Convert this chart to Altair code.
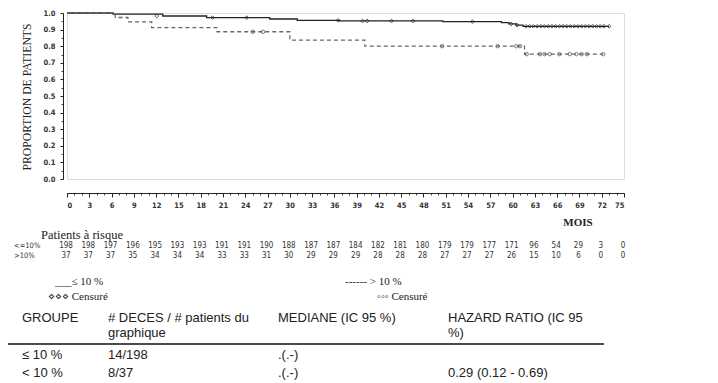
import altair as alt
import pandas as pd

# ---------------- data ----------------
solid_t = [0, 6.2, 12.9, 18.8, 27.3, 31.0, 36.7, 50.6, 58.5, 59.5, 60.5, 61.4, 73.0]
solid_s = [1.0, 0.993, 0.982, 0.972, 0.964, 0.956, 0.952, 0.948, 0.942, 0.934, 0.927, 0.920, 0.920]

dash_t = [0, 6.5, 8.2, 11.4, 20.2, 30.0, 40.1, 61.6, 72.2]
dash_s = [1.0, 0.973, 0.946, 0.912, 0.887, 0.837, 0.800, 0.752, 0.752]

solid_cens_t = [12.1, 19.6, 24.2, 36.5, 39.8, 40.4, 43.7, 46.6, 54.6, 59.8, 60.6,
                61.8, 62.3, 62.8, 63.3, 63.8, 64.3, 64.8, 65.3, 65.8, 66.3, 66.8,
                67.3, 67.8, 68.3, 68.8, 69.3, 69.8, 70.3, 70.8, 71.3, 71.8, 72.3, 73.0]
solid_cens_s = [0.982, 0.972, 0.972, 0.956, 0.952, 0.952, 0.952, 0.952, 0.948, 0.934, 0.927,
                0.920, 0.920, 0.920, 0.920, 0.920, 0.920, 0.920, 0.920, 0.920, 0.920, 0.920,
                0.920, 0.920, 0.920, 0.920, 0.920, 0.920, 0.920, 0.920, 0.920, 0.920, 0.920, 0.920]

dash_cens_t = [25.0, 26.4, 50.5, 58.0, 60.5, 61.0, 61.9, 63.7, 64.3, 65.0, 66.3,
               67.7, 68.6, 69.3, 70.0, 72.2]
dash_cens_s = [0.887, 0.887, 0.800, 0.800, 0.800, 0.800, 0.752, 0.752, 0.752, 0.752, 0.752,
               0.752, 0.752, 0.752, 0.752, 0.752]

risk_months = list(range(0, 76, 3))
risk_le10 = [198, 198, 197, 196, 195, 193, 193, 191, 191, 190, 188, 187, 187,
             184, 182, 181, 180, 179, 179, 177, 171, 96, 54, 29, 3, 0]
risk_gt10 = [37, 37, 37, 35, 34, 34, 34, 33, 33, 31, 30, 29, 29,
             29, 28, 28, 28, 27, 27, 27, 26, 15, 10, 6, 0, 0]

x_major = list(range(0, 76, 3))
x_minor = list(range(0, 76, 1))
y_major = [i / 10 for i in range(11)]
y_minor = [i / 20 for i in range(21)]

table_header = ["GROUPE", "# DECES / # patients du", "MEDIANE (IC 95 %)", "HAZARD RATIO (IC 95"]
table_header2 = ["", "graphique", "", "%)"]
table_row1 = ["≤ 10 %", "14/198", ".(.-)", ""]
table_row2 = ["< 10 %", "8/37", ".(.-)", "0.29 (0.12 - 0.69)"]

# ---------------- frames ----------------
curves = pd.concat([
    pd.DataFrame({"mois": solid_t, "prop": solid_s, "groupe": "≤ 10 %"}),
    pd.DataFrame({"mois": dash_t, "prop": dash_s, "groupe": "> 10 %"}),
])
cens_solid = pd.DataFrame({"mois": solid_cens_t, "prop": solid_cens_s})
cens_dash = pd.DataFrame({"mois": dash_cens_t, "prop": dash_cens_s})
risk = pd.DataFrame({"mois": risk_months, "le": risk_le10, "gt": risk_gt10})

XS = alt.Scale(domain=[0, 75], nice=False, zero=False)
YS = alt.Scale(domain=[0, 1], nice=False)

NUMFONT = "Liberation Sans Narrow, DejaVu Sans Condensed, Arial, sans-serif"
SERIF = "Liberation Serif, Times New Roman, serif"
SANS = "Liberation Sans, Arial, sans-serif"

# minor ticks axes (invisible marks)
minor = alt.Chart(curves).mark_point(opacity=0).encode(
    x=alt.X("mois:Q", scale=XS, axis=alt.Axis(orient="bottom", values=x_minor, labels=False,
                                                 domain=False, ticks=True, tickSize=2,
                                                 tickColor="#444", grid=False, title=None,
                                                 offset=14)),
    y=alt.Y("prop:Q", scale=YS, axis=alt.Axis(orient="left", values=y_minor, labels=False,
                                                 domain=False, ticks=True, tickSize=2,
                                                 tickColor="#444", grid=False, title=None,
                                                 offset=4)),
)

lines = alt.Chart(curves).mark_line(interpolate="step-after", strokeWidth=1.3).encode(
    x=alt.X("mois:Q", scale=XS, axis=alt.Axis(orient="bottom", values=x_major, format="d",
                                                 grid=False, title=None, offset=14, tickSize=4,
                                                 tickColor="#222", domainColor="#222",
                                                 labelFont=NUMFONT, labelFontSize=7.5,
                                                 labelFontWeight="bold", labelColor="#333",
                                                 labelPadding=4)),
    y=alt.Y("prop:Q", scale=YS, axis=alt.Axis(orient="left", values=y_major, format=".1f",
                                                 grid=False, title=None, offset=4, tickSize=3,
                                                 tickColor="#222", domainColor="#222",
                                                 labelFont=NUMFONT, labelFontSize=7.5,
                                                 labelFontWeight="bold", labelColor="#333",
                                                 labelPadding=5)),
    color=alt.Color("groupe:N", scale=alt.Scale(domain=["≤ 10 %", "> 10 %"],
                                                 range=["#222222", "#666666"]), legend=None),
    strokeDash=alt.StrokeDash("groupe:N", scale=alt.Scale(domain=["≤ 10 %", "> 10 %"],
                                                          range=[[1, 0], [4, 3]]), legend=None),
)

pts_solid = alt.Chart(cens_solid).mark_point(shape="diamond", size=14, filled=False,
                                             color="#222", strokeWidth=1).encode(
    x=alt.X("mois:Q", scale=XS, axis=None), y=alt.Y("prop:Q", scale=YS, axis=None))
pts_dash = alt.Chart(cens_dash).mark_point(shape="circle", size=12, filled=False,
                                           color="#444", strokeWidth=1).encode(
    x=alt.X("mois:Q", scale=XS, axis=None), y=alt.Y("prop:Q", scale=YS, axis=None))

risk1 = alt.Chart(risk).mark_text(font=NUMFONT, fontSize=8, color="#333", dx=-1).encode(
    x=alt.X("mois:Q", scale=XS, axis=None), y=alt.value(233), text="le:N")
risk2 = alt.Chart(risk).mark_text(font=NUMFONT, fontSize=8, color="#333", dx=-1).encode(
    x=alt.X("mois:Q", scale=XS, axis=None), y=alt.value(243), text="gt:N")


def label(text, x, y, font=SANS, size=13, weight="normal", align="left", angle=0, color="#222"):
    kw = dict(font=font, fontSize=size, fontWeight=weight, align=align, baseline="middle",
              color=color)
    if angle:
        kw["angle"] = angle
    return alt.Chart(pd.DataFrame({"t": [text]})).mark_text(**kw).encode(
        text="t:N", x=alt.value(x), y=alt.value(y))


texts = [
    label("PROPORTION DE PATIENTS", -40, 84, font=SERIF, size=11.7, align="center", angle=270),
    label("MOIS", 511, 210, font=SERIF, size=11, weight="bold", align="center"),
    label("Patients à risque", -26, 222, font=SERIF, size=12.5),
    label("<=10%", -53, 233, font=NUMFONT, size=7.5, color="#333"),
    label(">10%", -53, 243, font=NUMFONT, size=7.5, color="#333"),
    label("___≤ 10 %", -12, 269, font=SERIF, size=11),
    label("⋄⋄⋄ Censuré", -19, 284, font=SERIF, size=11),
    label("------ > 10 %", 278, 269, font=SERIF, size=11),
    label("◦◦◦ Censuré", 310, 284, font=SERIF, size=11),
]
cols_x = [-45, 41, 211, 381]
for cx, t in zip(cols_x, table_header):
    texts.append(label(t, cx, 305))
for cx, t in zip(cols_x, table_header2):
    if t:
        texts.append(label(t, cx, 320))
for cx, t in zip(cols_x, table_row1):
    if t:
        texts.append(label(t, cx, 342))
for cx, t in zip(cols_x, table_row2):
    if t:
        texts.append(label(t, cx, 360))

hline = alt.Chart(pd.DataFrame({"a": [0]})).mark_rule(color="#111", strokeWidth=1.3).encode(
    x=alt.value(-59), x2=alt.value(537), y=alt.value(331))

chart = alt.layer(minor, lines, pts_solid, pts_dash, risk1, risk2, hline, *texts).resolve_axis(
    x="independent", y="independent"
).properties(
    width=557, height=166,
    padding={"left": 59, "top": 5, "right": 86, "bottom": 204},
    autosize=alt.AutoSizeParams(type="none"),
).configure_view(stroke=None).configure(background="white")

chart.save("out.html", embed_options={"renderer": "svg", "actions": False})
